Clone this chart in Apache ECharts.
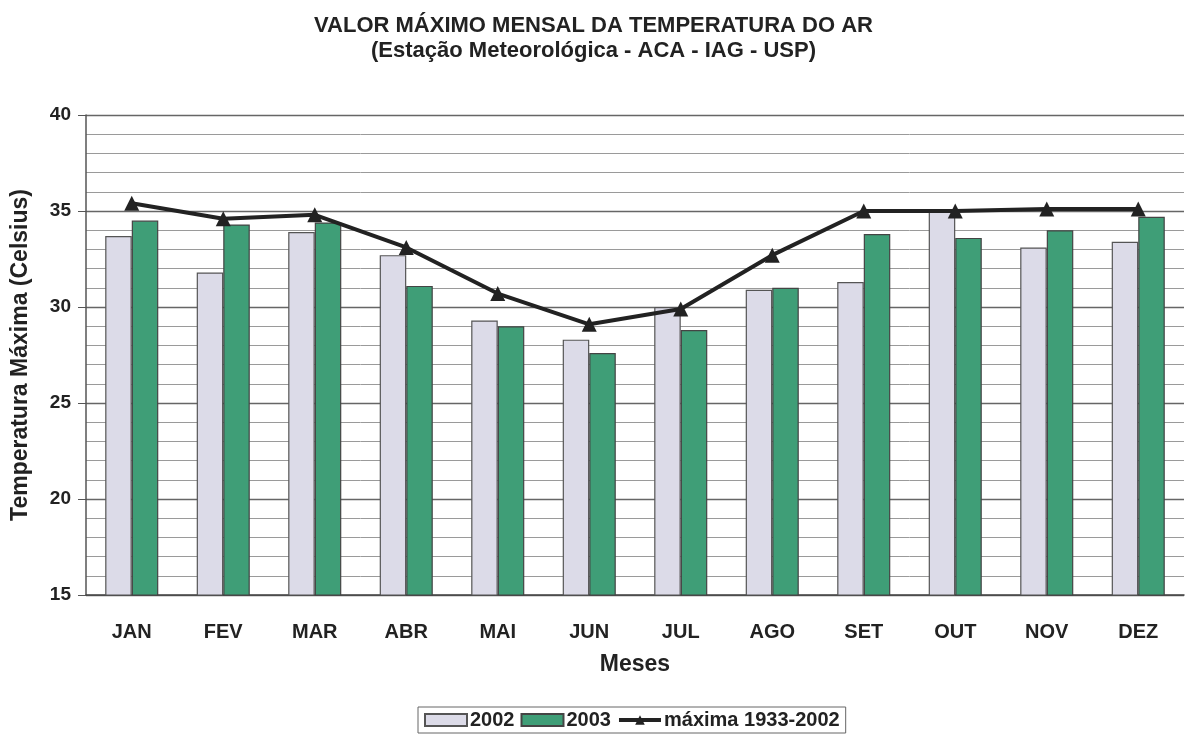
<!DOCTYPE html>
<html>
<head>
<meta charset="utf-8">
<script src="https://cdn.jsdelivr.net/npm/echarts@6/dist/echarts.min.js"></script>
<style>html,body{margin:0;padding:0;background:#fff}#c{width:1187px;height:735px}</style>
</head>
<body>
<div id="c"></div>
<script>
const months = ['JAN','FEV','MAR','ABR','MAI','JUN','JUL','AGO','SET','OUT','NOV','DEZ'];
const v2002 = [33.7, 31.8, 33.9, 32.7, 29.3, 28.3, 30.0, 30.9, 31.3, 35.0, 33.1, 33.4];
const v2003 = [34.5, 34.3, 34.4, 31.1, 29.0, 27.6, 28.8, 31.0, 33.8, 33.6, 34.0, 34.7];
const vMax = [35.4, 34.6, 34.8, 33.1, 30.7, 29.1, 29.9, 32.7, 35.0, 35.0, 35.1, 35.1];
const yTicks = {min: 15, max: 40, interval: 5};

const font = '"Liberation Sans", Arial, sans-serif';
const chart = echarts.init(document.getElementById('c'));
chart.setOption({
  animation: false,
  backgroundColor: '#fff',
  title: {
    text: 'VALOR MÁXIMO MENSAL DA TEMPERATURA DO AR',
    subtext: '(Estação Meteorológica - ACA - IAG - USP)',
    left: 'center', top: 10, itemGap: 3,
    textStyle: {fontFamily: font, fontSize: 22, fontWeight: 'bold', color: '#222'},
    subtextStyle: {fontFamily: font, fontSize: 22, fontWeight: 'bold', color: '#222'}
  },
  legend: {
    bottom: 2, left: 418,
    borderColor: '#666', borderWidth: 1, padding: [3, 6],
    itemGap: 6, itemWidth: 42, itemHeight: 12,
    textStyle: {fontFamily: font, fontSize: 20, fontWeight: 'bold', color: '#222', padding: [0, 0, 0, -2]},
    data: [
      {name: '2002', icon: 'rect'},
      {name: '2003', icon: 'rect'},
      {name: 'máxima 1933-2002', lineStyle: {width: 4, color: '#222'}, itemStyle: {color: '#222'}}
    ]
  },
  grid: {left: 86, right: 3, top: 115, bottom: 140},
  xAxis: {
    type: 'category', data: months,
    name: 'Meses', nameLocation: 'middle', nameGap: 58,
    nameTextStyle: {fontFamily: font, fontSize: 23, fontWeight: 'bold', color: '#222'},
    axisLine: {lineStyle: {color: '#444', width: 1.5}},
    axisTick: {show: false},
    axisLabel: {margin: 27, fontFamily: font, fontSize: 20, fontWeight: 'bold', color: '#222'}
  },
  yAxis: {
    type: 'value', min: yTicks.min, max: yTicks.max, interval: yTicks.interval,
    name: 'Temperatura Máxima (Celsius)', nameLocation: 'middle', nameGap: 54,
    nameTextStyle: {fontFamily: font, fontSize: 23, fontWeight: 'bold', color: '#222'},
    axisLine: {show: true, lineStyle: {color: '#555', width: 1.5}},
    axisTick: {show: true, length: 8, lineStyle: {color: '#555'}},
    axisLabel: {margin: 15, fontFamily: font, fontSize: 19, fontWeight: 'bold', color: '#222'},
    splitLine: {lineStyle: {color: '#666', width: 1.3}},
    minorTick: {show: false, splitNumber: 5},
    minorSplitLine: {show: true, lineStyle: {color: '#9a9a9a', width: 1}}
  },
  series: [
    {name: '2002', type: 'bar', data: v2002, barGap: '0%', barCategoryGap: '42%',
     itemStyle: {color: '#dcdbe8', borderColor: '#555', borderWidth: 1.2}},
    {name: '2003', type: 'bar', data: v2003,
     itemStyle: {color: '#3f9e77', borderColor: '#444', borderWidth: 1.2}},
    {name: 'máxima 1933-2002', type: 'line', data: vMax, z: 5,
     symbol: 'triangle', symbolSize: 15,
     lineStyle: {color: '#222', width: 4},
     itemStyle: {color: '#222'}}
  ]
});
</script>
</body>
</html>
